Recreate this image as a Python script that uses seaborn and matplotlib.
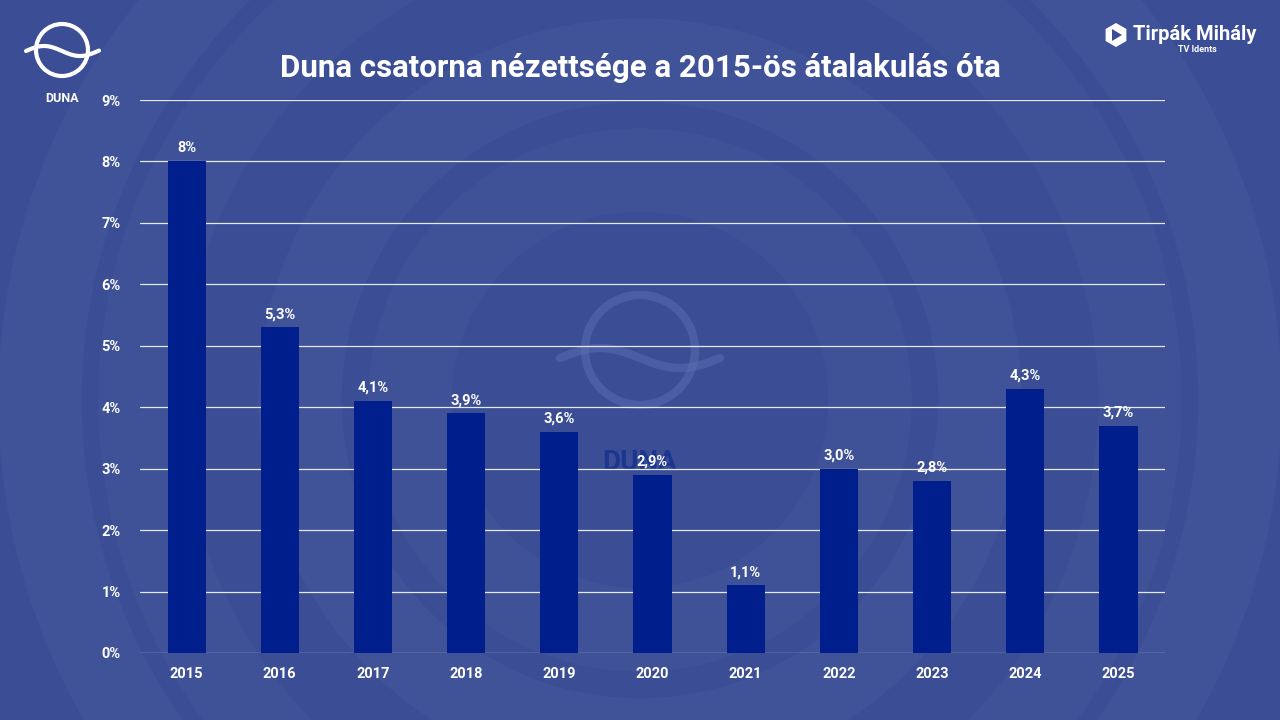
import matplotlib
matplotlib.use("Agg")
import matplotlib.pyplot as plt
from matplotlib.patches import Circle, Polygon
import numpy as np
import pandas as pd
import seaborn as sns

years = ["2015", "2016", "2017", "2018", "2019", "2020", "2021", "2022", "2023", "2024", "2025"]
share = [8.0, 5.3, 4.1, 3.9, 3.6, 2.9, 1.1, 3.0, 2.8, 4.3, 3.7]
bar_labels = ["8%", "5,3%", "4,1%", "3,9%", "3,6%", "2,9%", "1,1%", "3,0%", "2,8%", "4,3%", "3,7%"]
ytick_vals = list(range(0, 10))
ytick_labels = [f"{v}%" for v in ytick_vals]

title = "Duna csatorna nézettsége a 2015-ös átalakulás óta"

BG = "#3b4e95"
BAR = "#001f8c"

sns.set_theme(style="white")
plt.rcParams["font.family"] = ["Roboto", "DejaVu Sans"]

fig = plt.figure(figsize=(12.8, 7.2), dpi=100, facecolor=BG)

# faint background rings
bg = fig.add_axes([0, 0, 1, 1], zorder=0)
bg.set_xlim(0, 1280)
bg.set_ylim(720, 0)
bg.axis("off")
for r, a in [(600, 0.03), (500, 0.025), (340, 0.03), (230, 0.025)]:
    bg.add_patch(Circle((640, 400), r, fill=False, lw=60, ec="white", alpha=a))
# watermark logo
bg.add_patch(Circle((640, 350), 55, fill=False, lw=6, ec="#5a6db0", alpha=0.55))
wx = np.linspace(560, 720, 100)
bg.plot(wx, 358 + 10 * np.sin((wx - 640) / 80 * np.pi), color="#5a6db0", lw=6, alpha=0.55,
        solid_capstyle="round")
bg.text(640, 462, "DUNA", ha="center", va="center", fontsize=20, fontweight="bold",
        color="#14308f", alpha=0.8)

# top-left logo
bg.add_patch(Circle((62, 50), 26, fill=False, lw=3, ec="white"))
lx = np.linspace(26, 99, 100)
bg.plot(lx, 51 + 5 * np.sin((lx - 62) / 36 * np.pi), color="white", lw=3, solid_capstyle="round")
bg.text(62, 98, "DUNA", ha="center", va="center", fontsize=9, fontweight="bold", color="white")

# top-right logo
hx, hy = 1116, 35
ang = np.deg2rad(np.arange(0, 360, 60) + 30)
bg.add_patch(Polygon(np.c_[hx + 12 * np.cos(ang), hy + 12 * np.sin(ang)], closed=True,
                     fc="white", ec="none"))
bg.add_patch(Polygon([[hx - 4, hy - 6], [hx - 4, hy + 6], [hx + 6, hy]], closed=True,
                     fc=BG, ec="none"))
bg.text(1133, 34, "Tirpák Mihály", ha="left", va="center", fontsize=14.5, fontweight="bold",
        color="white")
bg.text(1197, 49, "TV Idents", ha="center", va="center", fontsize=6.5, fontweight="bold",
        color="white")

ax = fig.add_axes([0.1094, 0.0931, 0.8008, 0.768], zorder=2)
ax.patch.set_alpha(0)

df = pd.DataFrame({"year": years, "share": share})
sns.barplot(data=df, x="year", y="share", color=BAR, saturation=1, width=0.41,
            linewidth=0, edgecolor="none", ax=ax, zorder=3)

for i, (v, lab) in enumerate(zip(share, bar_labels)):
    ax.text(i, v + 0.1, lab, ha="center", va="bottom", fontsize=10.5, fontweight="bold",
            color="white", zorder=4)

ax.set_xlim(-0.5, len(years) - 0.5)
ax.set_ylim(0, 9)
ax.set_yticks(ytick_vals)
ax.set_yticklabels(ytick_labels)
ax.grid(axis="y", color="#e6e8f0", lw=0.9, zorder=1)
ax.set_axisbelow(True)
for s in ax.spines.values():
    s.set_visible(False)
ax.tick_params(axis="both", length=0, colors="white", labelsize=10.5)
ax.tick_params(axis="y", pad=14)
ax.tick_params(axis="x", pad=10)
for t in ax.get_xticklabels() + ax.get_yticklabels():
    t.set_fontweight("bold")
ax.set_xlabel("")
ax.set_ylabel("")

fig.text(0.5, 0.905, title, ha="center", va="center", fontsize=22.5, fontweight="bold",
         color="white")

fig.savefig("out.png", dpi=100, facecolor=BG)
